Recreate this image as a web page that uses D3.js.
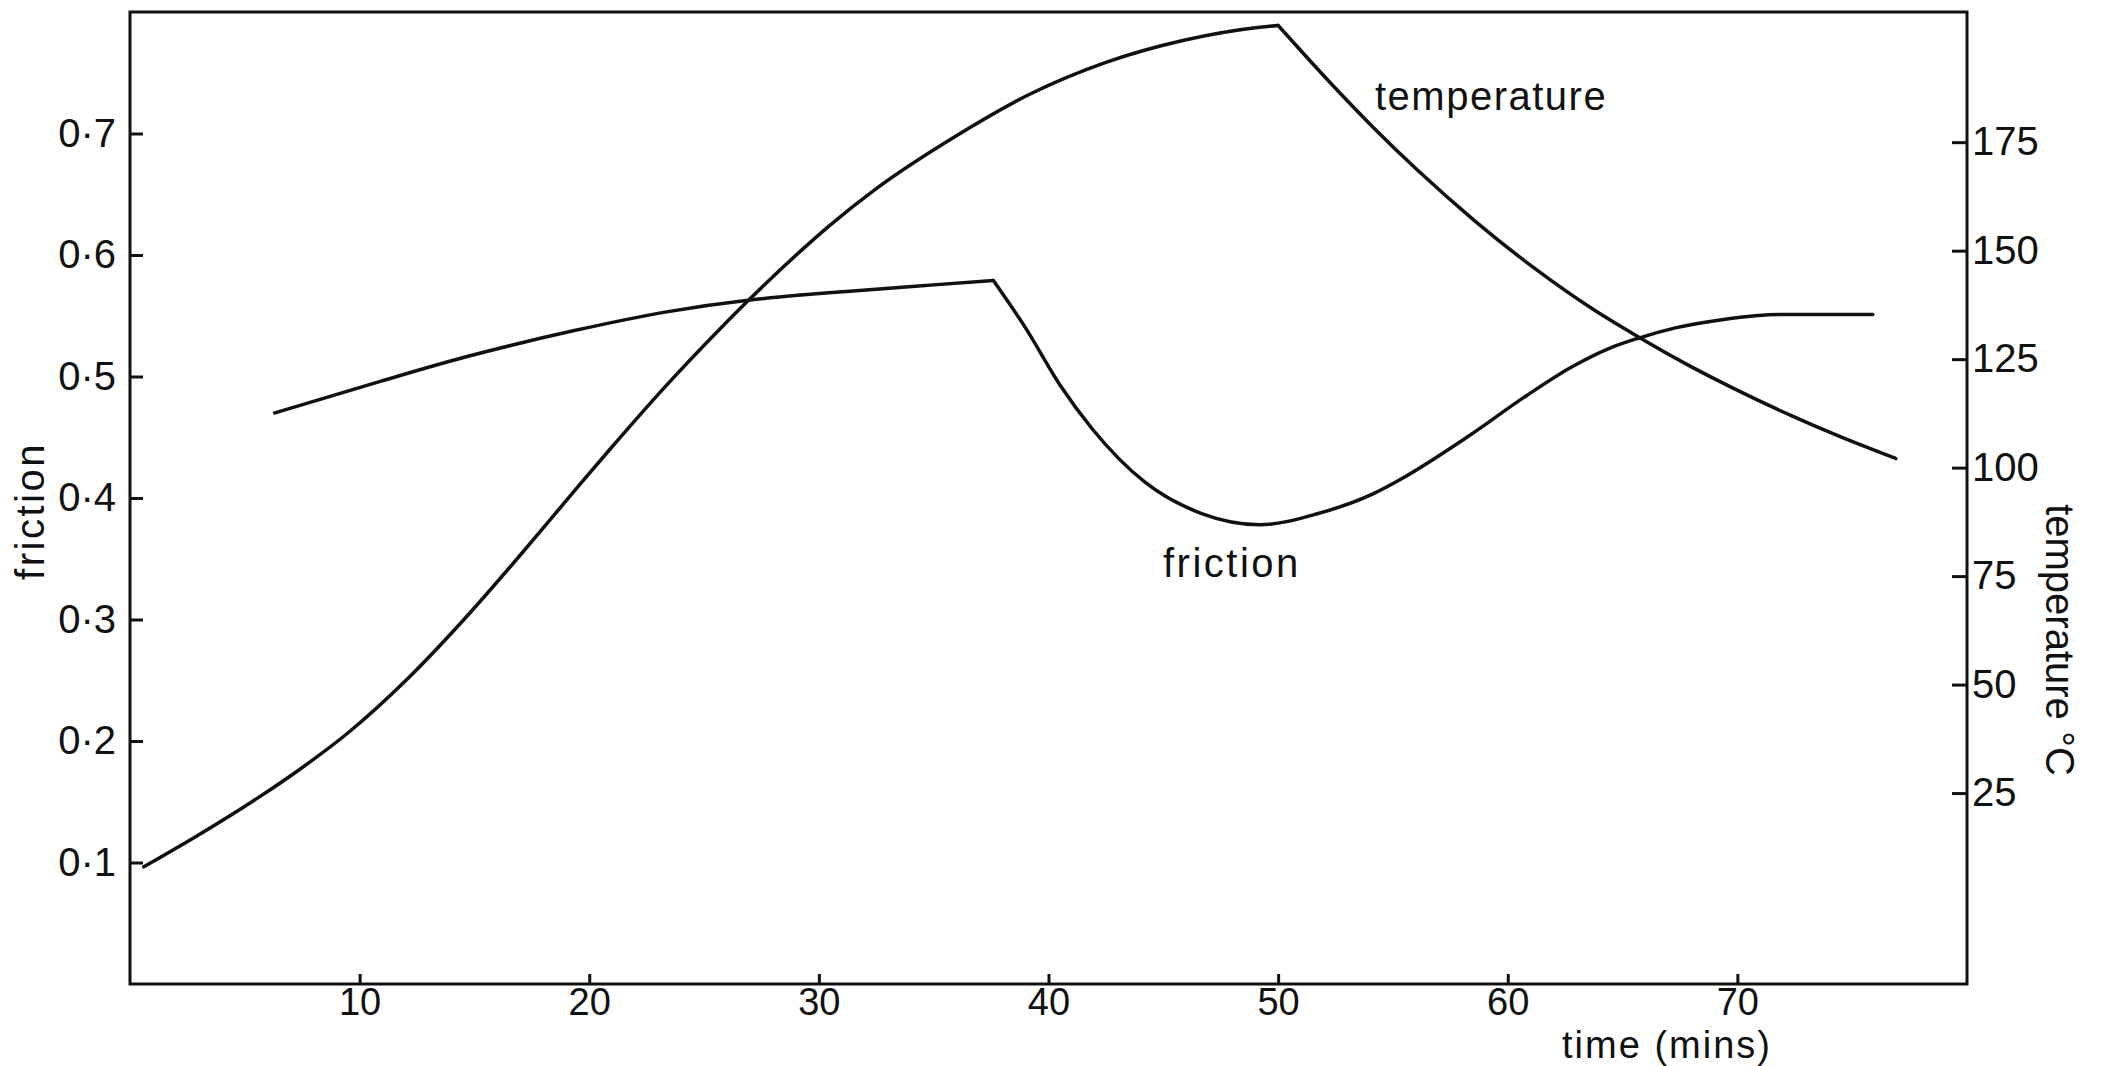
<!DOCTYPE html>
<html>
<head>
<meta charset="utf-8">
<script src="https://cdn.jsdelivr.net/npm/d3@7"></script>
<style>
  html, body { margin: 0; padding: 0; background: #fff; }
  svg { display: block; }
  text { font-family: "Liberation Sans", Arial, sans-serif; fill: #111; }
</style>
</head>
<body>
<svg id="chart" width="2107" height="1066"></svg>
<script>
// Friction run: time in minutes, friction coefficient
const frictionTime  = [6.3, 10.9, 14.6, 19.4, 23.3, 27.0, 29.2, 31.2, 34.7, 37.6,
                       39.0, 40.5, 41.9, 44.2, 46.7, 49.2, 51.7, 54.2, 55.3, 58.3,
                       60.8, 62.8, 64.4, 65.6, 67.3, 69.4, 71.9, 75.9];
const frictionValue = [0.470, 0.496, 0.516, 0.538, 0.553, 0.563, 0.567, 0.570, 0.575, 0.579,
                       0.540, 0.493, 0.457, 0.413, 0.387, 0.378, 0.387, 0.404, 0.415, 0.451,
                       0.484, 0.508, 0.523, 0.531, 0.540, 0.547, 0.551, 0.551];

// Temperature of the same run, °C
const tempTime  = [0.6, 3.0, 5.6, 7.4, 9.5, 12.1, 14.8, 17.1, 18.2, 19.6,
                   20.8, 23.3, 25.7, 27.0, 29.2, 30.4, 32.5, 35.9, 39.2, 42.5,
                   45.9, 49.2, 50.0, 52.2, 54.2, 56.1, 58.6, 61.1, 63.8, 65.6,
                   67.8, 69.9, 72.3, 74.4, 76.9];
const tempValue = [8.0, 15.4, 24.0, 30.5, 38.9, 51.4, 66.5, 80.5, 87.4, 96.2,
                   103.6, 118.6, 132.0, 138.9, 149.9, 155.5, 164.3, 176.2, 186.1, 193.4,
                   198.5, 201.5, 201.9, 189.1, 178.1, 168.4, 156.7, 146.2, 136.2, 130.4,
                   123.8, 118.1, 112.1, 107.3, 102.1];

// Tick labels
const timeTicks     = [10, 20, 30, 40, 50, 60, 70];
const frictionTicks = [0.1, 0.2, 0.3, 0.4, 0.5, 0.6, 0.7];
const tempTicks     = [25, 50, 75, 100, 125, 150, 175];

const svg = d3.select("#chart");
const plotLeft = 130, plotRight = 1967, plotTop = 12, plotBottom = 984;

const x = d3.scaleLinear().domain([0, 80]).range([plotLeft, plotRight]);
const yF = d3.scaleLinear().domain([0, 0.8]).range([plotBottom, plotTop]);
const yT = d3.scaleLinear().domain([-19, 205]).range([plotBottom, plotTop]);

svg.append("rect").attr("width", 2107).attr("height", 1066).attr("fill", "#fff");

// plot frame
svg.append("rect")
  .attr("x", plotLeft).attr("y", plotTop)
  .attr("width", plotRight - plotLeft).attr("height", plotBottom - plotTop)
  .attr("fill", "none").attr("stroke", "#111").attr("stroke-width", 3);

function styleAxis(g, size) {
  g.select(".domain").remove();
  g.selectAll(".tick line").attr("stroke", "#111").attr("stroke-width", 3);
  g.selectAll(".tick text").attr("font-size", size).attr("fill", "#111")
    .attr("font-family", "Liberation Sans, Arial, sans-serif");
}

// left axis: friction
svg.append("g")
  .attr("transform", `translate(${plotLeft},0)`)
  .call(d3.axisLeft(yF).tickValues(frictionTicks)
    .tickFormat(d => d3.format(".1f")(d).replace(".", "·"))
    .tickSizeInner(-13).tickSizeOuter(0).tickPadding(14))
  .call(g => styleAxis(g, 40));

// right axis: temperature
svg.append("g")
  .attr("transform", `translate(${plotRight},0)`)
  .call(d3.axisRight(yT).tickValues(tempTicks)
    .tickSizeInner(-15).tickSizeOuter(0).tickPadding(5))
  .call(g => styleAxis(g, 40));

// bottom axis: time
svg.append("g")
  .attr("transform", `translate(0,${plotBottom})`)
  .call(d3.axisBottom(x).tickValues(timeTicks)
    .tickSizeInner(-10).tickSizeOuter(0).tickPadding(4))
  .call(g => styleAxis(g, 38));

// split a series at its maximum so the sharp turn stays a corner
function segments(ts, vs) {
  const pts = ts.map((t, i) => [t, vs[i]]);
  const k = d3.maxIndex(vs);
  return [pts.slice(0, k + 1), pts.slice(k)];
}

const curveLine = yScale => d3.line()
  .x(d => x(d[0])).y(d => yScale(d[1]))
  .curve(d3.curveMonotoneX);

function drawSeries(ts, vs, yScale) {
  svg.append("g").selectAll("path")
    .data(segments(ts, vs))
    .join("path")
    .attr("d", curveLine(yScale))
    .attr("fill", "none")
    .attr("stroke", "#111")
    .attr("stroke-width", 3.5)
    .attr("stroke-linejoin", "round")
    .attr("stroke-linecap", "round");
}

drawSeries(tempTime, tempValue, yT);
drawSeries(frictionTime, frictionValue, yF);

// curve labels
svg.append("text").attr("x", 1375).attr("y", 110)
  .attr("font-size", 40).attr("letter-spacing", 1.5).text("temperature");
svg.append("text").attr("x", 1163).attr("y", 577)
  .attr("font-size", 40).attr("letter-spacing", 2.5).text("friction");

// axis titles
svg.append("text")
  .attr("transform", "translate(30,511) rotate(-90)")
  .attr("text-anchor", "middle").attr("dominant-baseline", "central")
  .attr("font-size", 40).attr("letter-spacing", 2.5).text("friction");

svg.append("text")
  .attr("transform", "translate(2060,640) rotate(90)")
  .attr("text-anchor", "middle").attr("dominant-baseline", "central")
  .attr("font-size", 40).text("temperature °C");

svg.append("text").attr("x", 1667).attr("y", 1058)
  .attr("text-anchor", "middle")
  .attr("font-size", 38).attr("letter-spacing", 2).text("time (mins)");
</script>
</body>
</html>
